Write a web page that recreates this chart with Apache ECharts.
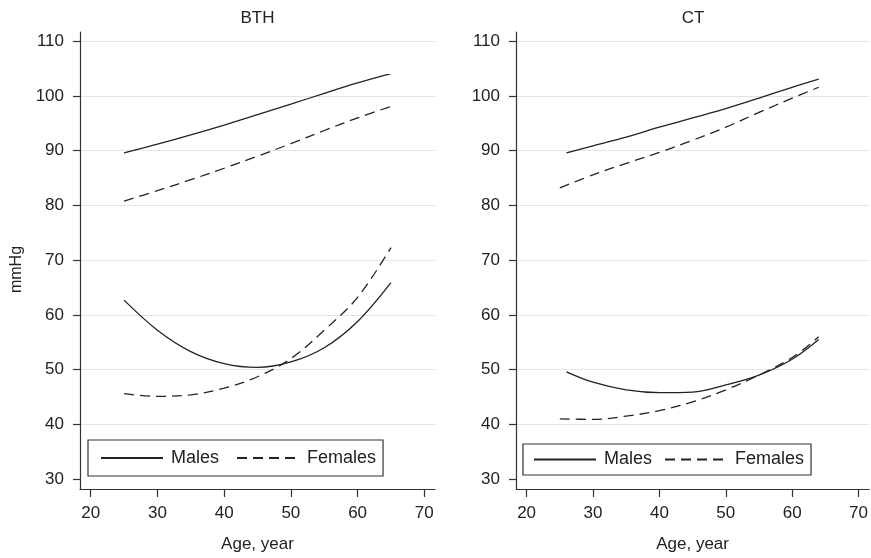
<!DOCTYPE html>
<html>
<head>
<meta charset="utf-8">
<script src="https://cdn.jsdelivr.net/npm/echarts@6/dist/echarts.min.js"></script>
<style>
  html, body { margin: 0; padding: 0; background: #fff; }
  #chart { width: 871px; height: 558px; }
</style>
</head>
<body>
<div id="chart"></div>
<script>
  // BTH panel
  const bthAges = [25, 30, 35, 40, 45, 50, 55, 60, 65];
  const bthMalesHigh = [89.6, 91.2, 92.9, 94.7, 96.6, 98.5, 100.5, 102.4, 104.1];
  const bthFemalesHigh = [80.8, 82.7, 84.7, 86.8, 89.0, 91.3, 93.7, 96.0, 98.1];
  const bthMalesLow = [62.7, 57.2, 53.3, 51.1, 50.4, 51.4, 54.0, 58.8, 65.9];
  const bthFemalesLow = [45.6, 45.1, 45.4, 46.6, 48.7, 52.0, 57.2, 63.2, 72.3];

  // CT panel
  const ctMaleAges = [26, 30, 35, 40, 45, 50, 55, 60, 64];
  const ctFemaleAges = [25, 30, 35, 40, 45, 50, 55, 60, 64];
  const ctMalesHigh = [89.6, 90.9, 92.5, 94.3, 96.0, 97.7, 99.6, 101.6, 103.1];
  const ctFemalesHigh = [83.2, 85.6, 87.7, 89.7, 91.9, 94.3, 97.0, 99.6, 101.6];
  const ctMalesLow = [49.6, 47.7, 46.3, 45.8, 45.9, 47.2, 49.0, 51.9, 55.5];
  const ctFemalesLow = [41.0, 40.9, 41.5, 42.5, 44.1, 46.3, 49.0, 52.2, 56.0];

  const xTicks = [20, 30, 40, 50, 60, 70];
  const yTicks = [30, 40, 50, 60, 70, 80, 90, 100, 110];
  const panelTitles = ['BTH', 'CT'];
  const legendNames = ['Males', 'Females'];

  const FONT = '"Liberation Sans", Arial, Helvetica, sans-serif';
  const INK = '#222';

  function pairs(xs, ys) {
    return xs.map((x, i) => [x, ys[i]]);
  }

  function xAxisFor(grid) {
    return {
      type: 'value', gridIndex: grid, min: 18.4, max: 71.6,
      name: 'Age, year', nameLocation: 'middle', nameGap: 47,
      nameTextStyle: { fontFamily: FONT, fontSize: 17, color: INK },
      axisLine: { show: true, lineStyle: { color: '#333', width: 1.2 } },
      axisTick: { show: true, length: 8, customValues: xTicks, lineStyle: { color: '#333', width: 1.2 } },
      axisLabel: { customValues: xTicks, margin: 16, fontFamily: FONT, fontSize: 17, color: INK },
      splitLine: { show: false }
    };
  }

  function yAxisFor(grid, withName) {
    return {
      type: 'value', gridIndex: grid, min: 28.18, max: 111.7,
      name: withName ? 'mmHg' : '', nameLocation: 'middle', nameGap: 55,
      nameTextStyle: { fontFamily: FONT, fontSize: 16, color: INK, padding: [0, 18, 0, 0] },
      axisLine: { show: true, lineStyle: { color: '#333', width: 1.2 } },
      axisTick: { show: true, length: 7, customValues: yTicks, lineStyle: { color: '#333', width: 1.2 } },
      axisLabel: { customValues: yTicks, margin: 16, fontFamily: FONT, fontSize: 17, color: INK },
      splitLine: {
        show: true,
        // no grid line at the bottom tick (30)
        lineStyle: { color: ['rgba(0,0,0,0)', '#e3e3e3', '#e3e3e3', '#e3e3e3', '#e3e3e3', '#e3e3e3', '#e3e3e3', '#e3e3e3', '#e3e3e3'], width: 1 }
      }
    };
  }

  function line(name, grid, data, dashed) {
    return {
      name: name, type: 'line', xAxisIndex: grid, yAxisIndex: grid,
      data: data, symbol: 'none', smooth: 0.35, silent: true,
      lineStyle: { color: INK, width: 1.3, type: dashed ? [10, 6] : 'solid' },
      itemStyle: { color: INK }
    };
  }

  function legendFor(left, top, padding, gap) {
    return {
      left: left, top: top, orient: 'horizontal',
      data: legendNames,
      itemWidth: 62, itemHeight: 14, itemGap: gap,
      padding: padding,
      borderColor: '#333', borderWidth: 1.2, borderRadius: 0,
      itemStyle: { opacity: 0, borderWidth: 0 },
      textStyle: { fontFamily: FONT, fontSize: 18, color: INK, padding: [0, 0, 0, 3] },
      selectedMode: false
    };
  }

  const chart = echarts.init(document.getElementById('chart'));
  chart.setOption({
    backgroundColor: '#fff',
    animation: false,
    grid: [
      { left: 80, top: 32, width: 355, height: 458 },
      { left: 516, top: 32, width: 354, height: 458 }
    ],
    xAxis: [xAxisFor(0), xAxisFor(1)],
    yAxis: [yAxisFor(0, true), yAxisFor(1, false)],
    legend: [
      legendFor(88, 440, [9, 7, 9, 12], 17),
      legendFor(523, 444, [6.5, 7, 6.5, 10], 12)
    ],
    graphic: [
      { type: 'text', x: 257.5, y: 18, silent: true,
        style: { text: panelTitles[0], align: 'center', verticalAlign: 'middle', fontFamily: FONT, fontSize: 17, fill: INK } },
      { type: 'text', x: 693, y: 18, silent: true,
        style: { text: panelTitles[1], align: 'center', verticalAlign: 'middle', fontFamily: FONT, fontSize: 17, fill: INK } }
    ],
    series: [
      line('Males', 0, pairs(bthAges, bthMalesHigh), false),
      line('Females', 0, pairs(bthAges, bthFemalesHigh), true),
      line('Males', 0, pairs(bthAges, bthMalesLow), false),
      line('Females', 0, pairs(bthAges, bthFemalesLow), true),
      line('Males', 1, pairs(ctMaleAges, ctMalesHigh), false),
      line('Females', 1, pairs(ctFemaleAges, ctFemalesHigh), true),
      line('Males', 1, pairs(ctMaleAges, ctMalesLow), false),
      line('Females', 1, pairs(ctFemaleAges, ctFemalesLow), true)
    ]
  });
</script>
</body>
</html>
